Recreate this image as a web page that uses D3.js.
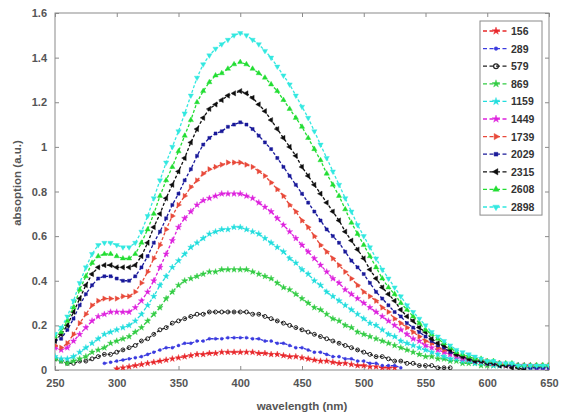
<!DOCTYPE html>
<html><head><meta charset="utf-8">
<script src="https://cdn.jsdelivr.net/npm/d3@7"></script>
<style>body{margin:0;background:#fff}svg{display:block}</style>
</head><body><svg id="c" width="563" height="415"></svg>
<script>
const wavelength = [250,255,260,265,270,275,280,285,290,295,300,305,310,315,320,325,330,335,340,345,350,355,360,365,370,375,380,385,390,395,400,405,410,415,420,425,430,435,440,445,450,455,460,465,470,475,480,485,490,495,500,505,510,515,520,525,530,535,540,545,550,555,560,565,570,575,580,585,590,595,600,605,610,615,620,625,630,635,640,645,650];

const s156 = [null,null,null,null,null,null,null,null,null,null,
 0.005,0.01,0.015,0.02,0.025,0.03,0.035,0.04,0.045,0.05,
 0.055,0.06,0.065,0.07,0.07,0.075,0.075,0.08,0.08,0.08,
 0.08,0.08,0.08,0.075,0.075,0.07,0.07,0.065,0.06,0.06,
 0.055,0.05,0.045,0.04,0.04,0.035,0.03,0.03,0.025,0.02,
 0.02,0.015,0.015,0.01,0.01,0.01,null,null,null,null,
 null,null,null,null,null,null,null,null,null,null,
 null,null,null,null,null,null,null,null,null,null,null];
const s289 = [null,null,null,null,null,null,null,null,0.03,0.035,
 0.04,0.045,0.05,0.055,0.06,0.07,0.08,0.09,0.10,0.10,
 0.11,0.12,0.12,0.13,0.13,0.14,0.14,0.14,0.145,0.145,
 0.145,0.145,0.14,0.14,0.13,0.13,0.12,0.12,0.11,0.10,
 0.10,0.09,0.08,0.08,0.07,0.06,0.06,0.05,0.05,0.04,
 0.04,0.03,0.03,0.02,0.02,0.02,0.01,null,null,null,
 null,null,null,null,null,null,null,null,null,null,
 null,null,null,null,null,null,null,null,null,null,null];
const s579 = [0.05,0.04,0.03,0.03,0.04,0.04,0.05,0.06,0.07,0.07,
 0.08,0.09,0.10,0.11,0.13,0.14,0.16,0.18,0.19,0.21,
 0.22,0.23,0.24,0.25,0.25,0.26,0.26,0.26,0.26,0.26,
 0.26,0.26,0.25,0.25,0.24,0.23,0.22,0.21,0.20,0.19,
 0.18,0.17,0.16,0.15,0.14,0.13,0.12,0.11,0.10,0.09,
 0.08,0.07,0.06,0.06,0.05,0.04,0.04,0.03,0.03,0.02,
 0.02,0.02,0.01,0.01,0.01,null,null,null,null,null,
 null,null,null,null,null,null,null,null,null,null,null];
const s869 = [0.05,0.04,0.03,0.04,0.05,0.06,0.08,0.09,0.10,0.12,
 0.13,0.14,0.15,0.17,0.19,0.22,0.25,0.28,0.32,0.35,
 0.38,0.40,0.41,0.42,0.43,0.44,0.44,0.45,0.45,0.45,
 0.45,0.45,0.44,0.43,0.42,0.41,0.39,0.37,0.36,0.34,
 0.32,0.30,0.28,0.27,0.25,0.23,0.22,0.20,0.19,0.17,
 0.16,0.15,0.14,0.13,0.12,0.11,0.10,0.09,0.08,0.07,
 0.06,0.06,0.05,0.05,0.04,0.04,0.03,0.03,0.03,0.02,
 0.02,0.02,0.02,0.02,0.02,0.02,0.02,0.02,0.02,0.02,0.02];
const s1159 = [0.06,0.05,0.05,0.06,0.08,0.10,0.12,0.14,0.16,0.17,
 0.18,0.19,0.20,0.22,0.25,0.29,0.33,0.38,0.42,0.46,
 0.49,0.52,0.55,0.57,0.59,0.61,0.62,0.63,0.63,0.64,
 0.64,0.63,0.62,0.61,0.59,0.57,0.55,0.53,0.50,0.48,
 0.45,0.43,0.40,0.38,0.35,0.33,0.31,0.29,0.27,0.25,
 0.23,0.21,0.20,0.18,0.16,0.15,0.13,0.12,0.11,0.10,
 0.09,0.08,0.07,0.06,0.05,0.05,0.04,0.04,0.03,0.03,
 0.03,0.02,0.02,0.02,0.02,0.02,0.01,0.01,0.01,0.01,0.01];
const s1449 = [0.10,0.09,0.10,0.13,0.16,0.19,0.22,0.24,0.25,0.26,
 0.26,0.26,0.26,0.28,0.31,0.35,0.40,0.46,0.52,0.58,
 0.64,0.68,0.71,0.74,0.76,0.77,0.78,0.79,0.79,0.79,
 0.79,0.78,0.77,0.75,0.73,0.71,0.68,0.65,0.62,0.59,
 0.56,0.53,0.50,0.47,0.44,0.41,0.39,0.36,0.34,0.32,
 0.30,0.28,0.26,0.24,0.22,0.20,0.18,0.16,0.14,0.13,
 0.11,0.10,0.09,0.08,0.07,0.06,0.05,0.05,0.04,0.04,
 0.03,0.03,0.03,0.02,0.02,0.02,0.02,0.02,0.01,0.01,0.01];
const s1739 = [0.11,0.10,0.12,0.16,0.21,0.25,0.29,0.31,0.32,0.32,
 0.32,0.33,0.33,0.35,0.39,0.44,0.50,0.56,0.63,0.69,
 0.74,0.78,0.82,0.85,0.88,0.90,0.91,0.92,0.93,0.93,
 0.93,0.92,0.91,0.89,0.87,0.84,0.81,0.78,0.74,0.71,
 0.67,0.64,0.60,0.56,0.53,0.50,0.47,0.44,0.41,0.38,
 0.35,0.33,0.31,0.28,0.26,0.23,0.21,0.19,0.17,0.15,
 0.13,0.12,0.10,0.09,0.08,0.07,0.06,0.05,0.05,0.04,
 0.04,0.03,0.03,0.02,0.02,0.02,0.02,0.02,0.02,0.02,0.02];
const s2029 = [0.13,0.14,0.18,0.23,0.29,0.34,0.38,0.41,0.42,0.42,
 0.41,0.40,0.40,0.42,0.46,0.51,0.57,0.62,0.68,0.74,
 0.79,0.85,0.90,0.96,1.01,1.04,1.06,1.07,1.09,1.10,
 1.11,1.10,1.08,1.05,1.02,0.99,0.95,0.91,0.87,0.83,
 0.79,0.75,0.71,0.67,0.63,0.60,0.57,0.53,0.49,0.46,
 0.43,0.39,0.35,0.32,0.29,0.26,0.24,0.21,0.19,0.17,
 0.15,0.13,0.11,0.10,0.08,0.07,0.06,0.05,0.04,0.04,
 0.03,0.03,0.02,0.02,0.02,0.02,0.01,0.01,0.01,0.01,0.01];
const s2315 = [0.13,0.16,0.20,0.26,0.32,0.38,0.43,0.46,0.47,0.47,
 0.46,0.46,0.46,0.47,0.51,0.57,0.64,0.70,0.77,0.83,
 0.89,0.95,1.02,1.08,1.13,1.17,1.19,1.21,1.23,1.24,
 1.25,1.24,1.22,1.19,1.16,1.12,1.08,1.04,1.00,0.96,
 0.91,0.87,0.83,0.79,0.75,0.71,0.67,0.62,0.58,0.54,
 0.50,0.45,0.41,0.37,0.34,0.31,0.27,0.24,0.22,0.19,
 0.17,0.14,0.12,0.11,0.09,0.07,0.06,0.05,0.04,0.04,
 0.03,0.03,0.02,0.02,0.01,0.01,0.00,null,null,null,null];
const s2608 = [0.15,0.17,0.22,0.28,0.36,0.42,0.48,0.51,0.52,0.52,
 0.51,0.50,0.50,0.52,0.57,0.63,0.70,0.78,0.85,0.91,
 0.98,1.05,1.12,1.20,1.25,1.29,1.32,1.33,1.35,1.37,
 1.38,1.37,1.35,1.33,1.31,1.28,1.25,1.21,1.17,1.13,
 1.09,1.04,0.99,0.94,0.88,0.83,0.78,0.72,0.66,0.61,
 0.56,0.51,0.46,0.41,0.37,0.34,0.30,0.27,0.24,0.21,
 0.18,0.16,0.14,0.12,0.10,0.08,0.07,0.06,0.05,0.05,
 0.04,0.04,0.03,0.03,0.03,0.02,0.02,0.02,0.02,0.02,0.02];
const s2898 = [0.16,0.19,0.24,0.31,0.39,0.46,0.52,0.56,0.57,0.57,
 0.56,0.55,0.55,0.57,0.62,0.69,0.77,0.85,0.93,1.00,
 1.07,1.15,1.23,1.31,1.37,1.41,1.44,1.46,1.48,1.50,
 1.51,1.50,1.48,1.46,1.43,1.40,1.36,1.32,1.28,1.23,
 1.18,1.13,1.07,1.01,0.95,0.89,0.83,0.77,0.71,0.65,
 0.60,0.55,0.50,0.45,0.41,0.37,0.33,0.29,0.26,0.23,
 0.20,0.17,0.15,0.13,0.11,0.09,0.08,0.07,0.06,0.05,
 0.04,0.04,0.03,0.03,0.03,0.02,0.02,0.02,0.02,0.02,0.02];

const seriesNames = ["156","289","579","869","1159","1449","1739","2029","2315","2608","2898"];
const seriesValues = [s156,s289,s579,s869,s1159,s1449,s1739,s2029,s2315,s2608,s2898];
const seriesColors = ["#e8262a","#3a3adf","#222222","#33cc44","#22dddd","#dd22dd","#e84a3a","#1a1a99","#111111","#22dd33","#33e8e0"];
const seriesMarkers = ["star","dot","circle","star","star","star","tright","square","tleft","tup","tdown"];
const xTicks = [250,300,350,400,450,500,550,600,650];
const yTicks = [0,0.2,0.4,0.6,0.8,1,1.2,1.4,1.6];
const yTickLabels = ["0","0.2","0.4","0.6","0.8","1","1.2","1.4","1.6"];

const W = 563, H = 415;
const m = {l:55, r:14, t:13, b:45};
const svg = d3.select("#c");
const x = d3.scaleLinear().domain([250,650]).range([m.l, W - m.r]);
const y = d3.scaleLinear().domain([0,1.6]).range([H - m.b, m.t]);

const defs = svg.append("defs");
defs.append("clipPath").attr("id","clip").append("rect")
  .attr("x", m.l).attr("y", m.t).attr("width", W-m.l-m.r).attr("height", H-m.t-m.b);
defs.append("filter").attr("id","soft").append("feGaussianBlur").attr("stdDeviation",0.5);

function markerPath(type, size){
  switch(type){
    case "star": return d3.symbol(d3.symbolStar, size)();
    case "dot": return d3.symbol(d3.symbolCircle, size*0.6)();
    case "circle": return d3.symbol(d3.symbolCircle, size)();
    case "square": return d3.symbol(d3.symbolSquare, size*0.8)();
    default: return d3.symbol(d3.symbolTriangle, size)();
  }
}
function markerRot(type){
  return {tright:90, tleft:-90, tup:0, tdown:180}[type] || 0;
}

const fontFam = "'Liberation Sans', Arial, sans-serif";

const axisColor = "#8a8a8a";
svg.append("rect").attr("x", m.l).attr("y", m.t).attr("width", W-m.l-m.r).attr("height", H-m.t-m.b)
  .attr("fill","none").attr("stroke", axisColor).attr("stroke-width",1);

const xAxB = d3.axisBottom(x).tickValues(xTicks).tickSizeInner(-4).tickSizeOuter(0).tickPadding(9).tickFormat(d3.format("d"));
const xAxT = d3.axisTop(x).tickValues(xTicks).tickSizeInner(-4).tickSizeOuter(0).tickFormat("");
const yAxL = d3.axisLeft(y).tickValues(yTicks).tickSizeInner(-4).tickSizeOuter(0).tickPadding(8).tickFormat((d,i)=>yTickLabels[i]);
const yAxR = d3.axisRight(y).tickValues(yTicks).tickSizeInner(-4).tickSizeOuter(0).tickFormat("");

function styleAxis(g){
  g.select(".domain").remove();
  g.selectAll(".tick line").attr("stroke", axisColor);
  g.selectAll(".tick text").attr("fill","#555").attr("font-family", fontFam)
    .attr("font-size", 11).attr("font-weight","bold");
}
svg.append("g").attr("transform",`translate(0,${H-m.b})`).call(xAxB).call(styleAxis);
svg.append("g").attr("transform",`translate(0,${m.t})`).call(xAxT).call(styleAxis);
svg.append("g").attr("transform",`translate(${m.l},0)`).call(yAxL).call(styleAxis);
svg.append("g").attr("transform",`translate(${W-m.r},0)`).call(yAxR).call(styleAxis);

svg.append("text").attr("x", (m.l + W - m.r)/2).attr("y", 410).attr("text-anchor","middle")
  .attr("font-family", fontFam).attr("font-size", 11.5).attr("font-weight","bold").attr("fill","#555")
  .text("wavelength (nm)");
svg.append("text").attr("transform","translate(21,183) rotate(-90)").attr("text-anchor","middle")
  .attr("font-family", fontFam).attr("font-size", 11.5).attr("font-weight","bold").attr("fill","#555")
  .text("absoption (a.u.)");

const plot = svg.append("g").attr("clip-path","url(#clip)").append("g").attr("filter","url(#soft)");
const line = d3.line().defined(d => d[1] !== null).x(d => x(d[0])).y(d => y(d[1]));

seriesValues.forEach((vals, si) => {
  const pts = wavelength.map((w,i) => [w, vals[i]]);
  const col = seriesColors[si];
  const g = plot.append("g");
  g.append("path").datum(pts).attr("d", line).attr("fill","none")
    .attr("stroke", col).attr("stroke-width", 1.3).attr("stroke-dasharray","3,2");
  const mk = seriesMarkers[si];
  g.selectAll("path.mk").data(pts.filter(d => d[1] !== null)).join("path")
    .attr("class","mk")
    .attr("d", markerPath(mk, mk === "dot" ? 12 : 12))
    .attr("transform", d => `translate(${x(d[0])},${y(d[1])}) rotate(${markerRot(mk)})`)
    .attr("fill", mk === "circle" ? "none" : col)
    .attr("stroke", col).attr("stroke-width", mk === "circle" ? 1 : 0.4);
});

const lg = svg.append("g");
const lx = 480, ly = 21, lw = 62, rowH = 17.6;
lg.append("rect").attr("x", lx).attr("y", ly).attr("width", lw).attr("height", rowH*seriesNames.length + 0.5)
  .attr("fill","#fff").attr("stroke", axisColor).attr("stroke-width",1);
const lgi = lg.append("g").attr("filter","url(#soft)");
seriesNames.forEach((nm, i) => {
  const cy = ly + 10 + i*rowH;
  const col = seriesColors[i];
  lgi.append("line").attr("x1", lx+3).attr("x2", lx+29).attr("y1", cy).attr("y2", cy)
    .attr("stroke", col).attr("stroke-width", 1.3).attr("stroke-dasharray","4,2.5");
  const mk = seriesMarkers[i];
  lgi.append("path").attr("d", markerPath(mk, 18))
    .attr("transform", `translate(${lx+16},${cy}) rotate(${markerRot(mk)})`)
    .attr("fill", mk === "circle" ? "none" : col).attr("stroke", col).attr("stroke-width", mk==="circle"?1.2:0.4);
  lg.append("text").attr("x", lx+31).attr("y", cy+4).attr("font-family", fontFam)
    .attr("font-size", 10.5).attr("font-weight","bold").attr("fill","#333").text(nm);
});
</script>
</body></html>
